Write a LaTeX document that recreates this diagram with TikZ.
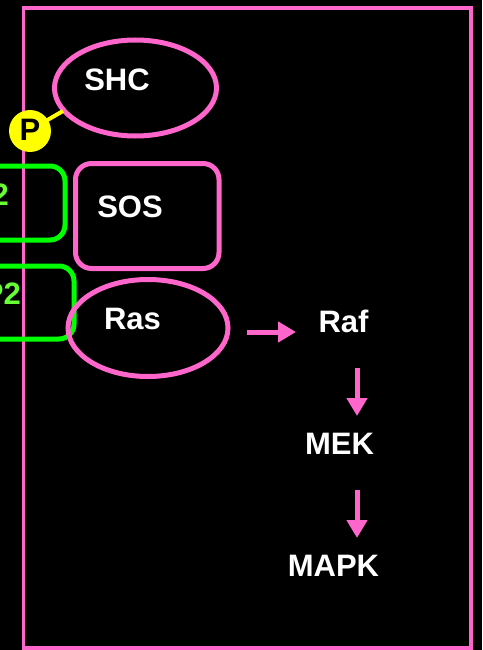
\documentclass[tikz,border=0pt]{standalone}
\usepackage{fontspec}
\setmainfont{Liberation Sans}
\usetikzlibrary{arrows.meta}
\definecolor{pinkc}{HTML}{FF66CC}
\definecolor{greenc}{HTML}{00FF00}
\definecolor{greentext}{HTML}{66FF33}
\definecolor{yellowc}{HTML}{FFFF00}
\tikzset{
  lbl/.style={inner sep=0pt, font=\fontsize{31}{36}\selectfont\bfseries, text=white},
  glbl/.style={lbl, text=greentext},
  pinkell/.style={draw=pinkc, line width=5pt},
  pinkbox/.style={draw=pinkc, line width=5pt, rounded corners=16pt},
  greenbox/.style={draw=greenc, line width=5pt, rounded corners=15pt},
  arr/.style={draw=pinkc, line width=5pt, -{Triangle[length=18pt,width=20pt]}},
}
\begin{document}
\begin{tikzpicture}[x=1pt,y=-1pt]
\useasboundingbox (0,0) rectangle (482,650);
\clip (0,0) rectangle (482,650);
\fill[black] (0,0) rectangle (482,650);
% outer frame
\draw[pinkc, line width=3.5pt] (23.5,8) rectangle (471,648);
% green boxes (cut off at left)
\draw[greenbox] (-80,166) rectangle (65,240);
\node[glbl, anchor=east] (grb) at (9,194) {Grb2};
\draw[greenbox] (-80,266) rectangle (74,339);
\node[glbl, anchor=east] (shp) at (21,294) {SHP2};
% SHC
\draw[pinkell] (135.5,88) ellipse [x radius=81, y radius=48];
\node[lbl] (shc) at (117,80) {SHC};
\coordinate (shcedge) at (63,111);
% P
\node[circle, fill=yellowc, minimum size=42pt, inner sep=0pt] (p) at (30,131) {};
\draw[yellowc, line width=4pt] (p.center) ++(14,-9) -- (shcedge);
\node[lbl, text=black] (ptext) at (30,130) {P};
% SOS
\draw[pinkbox] (75.5,163.5) rectangle (219,268.5);
\node[lbl] (sos) at (130,206.5) {SOS};
% Ras
\draw[pinkell] (148,328) ellipse [x radius=80, y radius=48.5];
\node[lbl] (ras) at (132.5,318.5) {Ras};
% cascade
\node[lbl] (raf) at (343.5,321.5) {Raf};
\node[lbl] (mek) at (339.5,443.5) {MEK};
\node[lbl] (mapk) at (333.5,565.5) {MAPK};
\coordinate (a1s) at (247,332);
\coordinate (a1e) at (296,332);
\coordinate (a2s) at (357,368);
\coordinate (a2e) at (357,416);
\coordinate (a3s) at (357,490);
\coordinate (a3e) at (357,538);
\draw[arr] (a1s) -- (a1e);
\draw[arr] (a2s) -- (a2e);
\draw[arr] (a3s) -- (a3e);
\end{tikzpicture}
\end{document}
